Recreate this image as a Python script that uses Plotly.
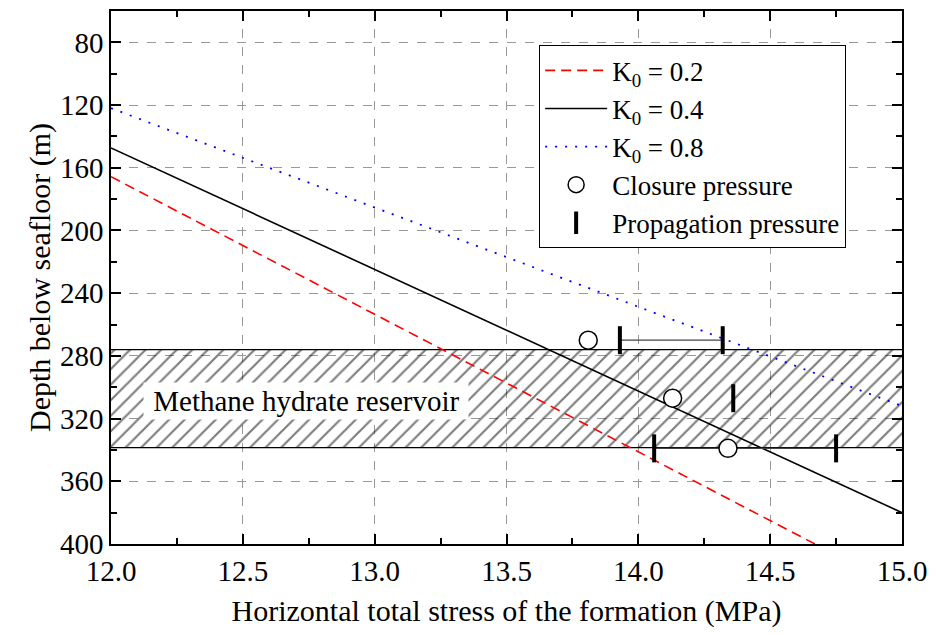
import plotly.graph_objects as go

# Horizontal total stress profiles (MPa) vs depth below seafloor (m)
k02_stress = [12.0, 14.67]
k02_depth = [165.7, 400.0]
k04_stress = [12.0, 15.0]
k04_depth = [147.3, 380.0]
k08_stress = [12.0, 15.0]
k08_depth = [122.0, 312.0]

# Measured pressures
closure_stress = [13.81, 14.13, 14.34]
closure_depth = [270, 307, 339]
propagation_stress = [13.93, 14.32, 14.36, 14.06, 14.75]
propagation_depth = [270, 270, 307, 339, 339]

# Reservoir interval (m)
reservoir_top = 276
reservoir_bottom = 338.5
x_min, x_max = 12.0, 15.0

FONT = "Liberation Serif, Times New Roman, serif"

fig = go.Figure()

# Hatched methane hydrate reservoir band
fig.add_trace(go.Scatter(
    x=[x_min - 0.1, x_max + 0.1, x_max + 0.1, x_min - 0.1, x_min - 0.1],
    y=[reservoir_top, reservoir_top, reservoir_bottom, reservoir_bottom, reservoir_top],
    mode="lines", fill="toself",
    fillcolor="rgba(0,0,0,0)",
    fillpattern=dict(shape="/", size=11, solidity=0.2, fgcolor="black",
                     bgcolor="rgba(0,0,0,0)"),
    line=dict(color="black", width=1.3),
    showlegend=False, hoverinfo="skip",
))

fig.add_trace(go.Scatter(
    x=k02_stress, y=k02_depth, mode="lines", name="K<sub>0</sub> = 0.2",
    line=dict(color="red", width=1.6, dash="10px,6px"),
))
fig.add_trace(go.Scatter(
    x=k04_stress, y=k04_depth, mode="lines", name="K<sub>0</sub> = 0.4",
    line=dict(color="black", width=1.6),
))
fig.add_trace(go.Scatter(
    x=k08_stress, y=k08_depth, mode="lines", name="K<sub>0</sub> = 0.8",
    line=dict(color="blue", width=1.8, dash="2px,8px"),
))

# Ranges between propagation pressures at the same depth
for d in sorted(set(propagation_depth)):
    xs = [s for s, dd in zip(propagation_stress, propagation_depth) if dd == d]
    if len(xs) > 1:
        fig.add_trace(go.Scatter(
            x=[min(xs), max(xs)], y=[d, d], mode="lines",
            line=dict(color="#444", width=1.2),
            showlegend=False, hoverinfo="skip",
        ))

fig.add_trace(go.Scatter(
    x=closure_stress, y=closure_depth, mode="markers", name="Closure pressure",
    marker=dict(symbol="circle", size=18, color="white",
                line=dict(color="black", width=1.5)),
))
fig.add_trace(go.Scatter(
    x=propagation_stress, y=propagation_depth, mode="markers",
    name="Propagation pressure",
    marker=dict(symbol="line-ns", size=20, color="black",
                line=dict(color="black", width=4)),
))

fig.add_annotation(
    x=12.74, y=308.6, text="&nbsp;Methane hydrate reservoir&nbsp;", showarrow=False,
    font=dict(family=FONT, size=29, color="black"),
    bgcolor="white", borderpad=2,
)

axis_common = dict(
    showline=True, linecolor="black", linewidth=1.6, mirror="ticks",
    ticks="inside", ticklen=10, tickwidth=1.5, tickcolor="black",
    showgrid=True, gridcolor="#999999", gridwidth=1, griddash="dash",
    zeroline=False,
    tickfont=dict(family=FONT, size=29, color="black"),
    title_font=dict(family=FONT, size=30, color="black"),
)

fig.update_xaxes(
    range=[x_min, x_max], dtick=0.5, tick0=12, tickformat=".1f",
    minor=dict(dtick=0.25, ticks="inside", ticklen=6, tickcolor="black",
               tickwidth=1.5, showgrid=False),
    title_text="Horizontal total stress of the formation (MPa)",
    title_standoff=14,
    **axis_common,
)
fig.update_yaxes(
    range=[400, 60], dtick=40, tick0=0,
    minor=dict(dtick=20, ticks="inside", ticklen=6, tickcolor="black",
               tickwidth=1.5, showgrid=False),
    title_text="Depth below seafloor (m)",
    title_standoff=0,
    **axis_common,
)

fig.update_layout(
    width=936, height=635,
    margin=dict(l=111, r=32, t=9, b=91),
    paper_bgcolor="white", plot_bgcolor="white",
    font=dict(family=FONT, size=27, color="black"),
    legend=dict(
        x=0.541, y=0.936, xanchor="left", yanchor="top",
        bgcolor="white", bordercolor="black", borderwidth=1.2,
        font=dict(family=FONT, size=27, color="black"),
        tracegroupgap=0, itemwidth=62,
    ),
    showlegend=True,
)

fig.write_html("out.html")
